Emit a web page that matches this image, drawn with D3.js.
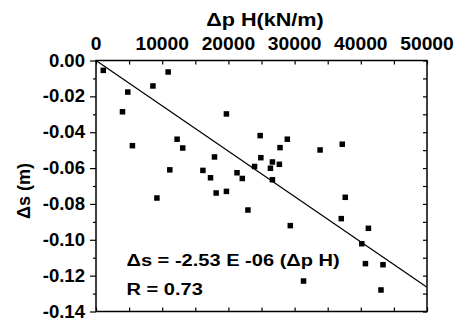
<!DOCTYPE html>
<html>
<head>
<meta charset="utf-8">
<script src="https://cdn.jsdelivr.net/npm/d3@7"></script>
<style>
  body { margin: 0; background: #fff; }
  text { font-family: "Liberation Sans", Arial, Helvetica, sans-serif; font-weight: bold; fill: #000; }
</style>
</head>
<body>
<div class="chart"></div>
<script>
// delta pH (kN/m)
var dpH = [1100, 10900, 8600, 4800, 4000, 19700, 24800, 12250, 13100, 5500,
  17900, 24900, 23950, 26350, 11150, 16150, 21300, 17300, 22100, 28900,
  27800, 33850, 37200, 26650, 27700, 26650, 9200, 18150, 19700, 22950,
  29350, 37650, 37050, 41150, 40150, 40700, 43350, 31350, 43050];
// delta s (m)
var ds = [-0.0055, -0.0064, -0.0142, -0.0176, -0.0286, -0.0298, -0.0419, -0.0439, -0.0488, -0.0475,
  -0.0538, -0.0542, -0.0591, -0.0601, -0.0610, -0.0613, -0.0626, -0.0654, -0.0658, -0.0439,
  -0.0486, -0.0499, -0.0467, -0.0566, -0.0579, -0.0665, -0.0767, -0.0739, -0.0730, -0.0834,
  -0.0921, -0.0763, -0.0882, -0.0936, -0.1022, -0.1133, -0.1139, -0.1230, -0.1280];

var xTicks = [0, 10000, 20000, 30000, 40000, 50000];
var yTicks = [0, -0.02, -0.04, -0.06, -0.08, -0.10, -0.12, -0.14];
var slope = -2.53e-6;
var eqLabel = "\u0394s = -2.53 E -06 (\u0394p H)";
var rLabel = "R = 0.73";
var xTitle = "\u0394p H(kN/m)";
var yTitle = "\u0394s (m)";

var width = 458, height = 320;
var plotLeft = 96, plotRight = 427, plotTop = 60.5, plotBottom = 311.5;

var svg = d3.select(".chart").append("svg")
  .attr("width", width)
  .attr("height", height);

var x = d3.scaleLinear().domain([0, 50000]).range([plotLeft, plotRight]);
var y = d3.scaleLinear().domain([0, -0.14]).range([plotTop, plotBottom]);

// stretched text helper (source picture is wider than natural glyphs)
function label(px, py, str, size, sx, anchor) {
  return svg.append("text")
    .attr("transform", "translate(" + px + "," + py + ") scale(" + sx + ",1)")
    .attr("text-anchor", anchor)
    .style("font-size", size + "px")
    .text(str);
}

// axes
var xMinor = d3.range(0, 50001, 5000);
var yAll = d3.range(0, 15).map(function(i) { return -i * 0.01; });
var yOdd = yAll.filter(function(v, i) { return i % 2 == 1; });

var topAxis = d3.axisTop(x).tickValues(xMinor).tickSizeInner(-4).tickSizeOuter(0).tickFormat("");
var botAxis = d3.axisBottom(x).tickValues(xMinor).tickSizeInner(-4).tickSizeOuter(0).tickFormat("");
var leftMajor = d3.axisLeft(y).tickValues(yTicks).tickSizeInner(6).tickSizeOuter(0).tickFormat("");
var leftMinor = d3.axisLeft(y).tickValues(yOdd).tickSizeInner(3).tickSizeOuter(0).tickFormat("");
var rightAxis = d3.axisRight(y).tickValues(yAll).tickSizeInner(-4).tickSizeOuter(0).tickFormat("");

svg.append("g").attr("transform", "translate(0," + plotTop + ")").call(topAxis);
svg.append("g").attr("transform", "translate(0," + plotBottom + ")").call(botAxis);
svg.append("g").attr("transform", "translate(" + plotLeft + ",0)").call(leftMajor);
svg.append("g").attr("transform", "translate(" + plotLeft + ",0)").call(leftMinor);
svg.append("g").attr("transform", "translate(" + plotRight + ",0)").call(rightAxis);

svg.selectAll(".domain").remove();
svg.selectAll(".tick line").attr("stroke", "#000").attr("stroke-width", 1.2);

svg.append("rect")
  .attr("x", plotLeft).attr("y", plotTop)
  .attr("width", plotRight - plotLeft).attr("height", plotBottom - plotTop)
  .attr("fill", "none").attr("stroke", "#000").attr("stroke-width", 1.5);

// tick labels
xTicks.forEach(function(v) {
  label(x(v), 50, String(v), 17.5, 1.1, "middle");
});
yTicks.forEach(function(v) {
  label(85, y(v) + 6, v.toFixed(2).replace("-0.00", "0.00"), 17.5, 1.06, "end");
});

// titles
label(265, 26, xTitle, 18, 1.2, "middle");
svg.append("text")
  .attr("transform", "translate(30,191) rotate(-90)")
  .attr("text-anchor", "middle")
  .style("font-size", "18px")
  .text(yTitle);

// regression line
svg.append("defs").append("clipPath").attr("id", "plotclip")
  .append("rect").attr("x", plotLeft).attr("y", plotTop)
  .attr("width", plotRight - plotLeft).attr("height", plotBottom - plotTop);

svg.append("line")
  .attr("clip-path", "url(#plotclip)")
  .attr("x1", x(0)).attr("y1", y(0))
  .attr("x2", x(50000)).attr("y2", y(slope * 50000))
  .attr("stroke", "#000").attr("stroke-width", 1.2);

// points
var sz = 5.5;
svg.selectAll(".pt")
  .data(dpH)
  .enter()
  .append("rect")
  .attr("class", "pt")
  .attr("x", function(d) { return x(d) - sz / 2; })
  .attr("y", function(d, i) { return y(ds[i]) - sz / 2; })
  .attr("width", sz).attr("height", sz)
  .attr("fill", "#000");

// equation
label(126.5, 266, eqLabel, 17, 1.18, "start");
label(126.5, 295, rLabel, 17, 1.18, "start");
</script>
</body>
</html>
